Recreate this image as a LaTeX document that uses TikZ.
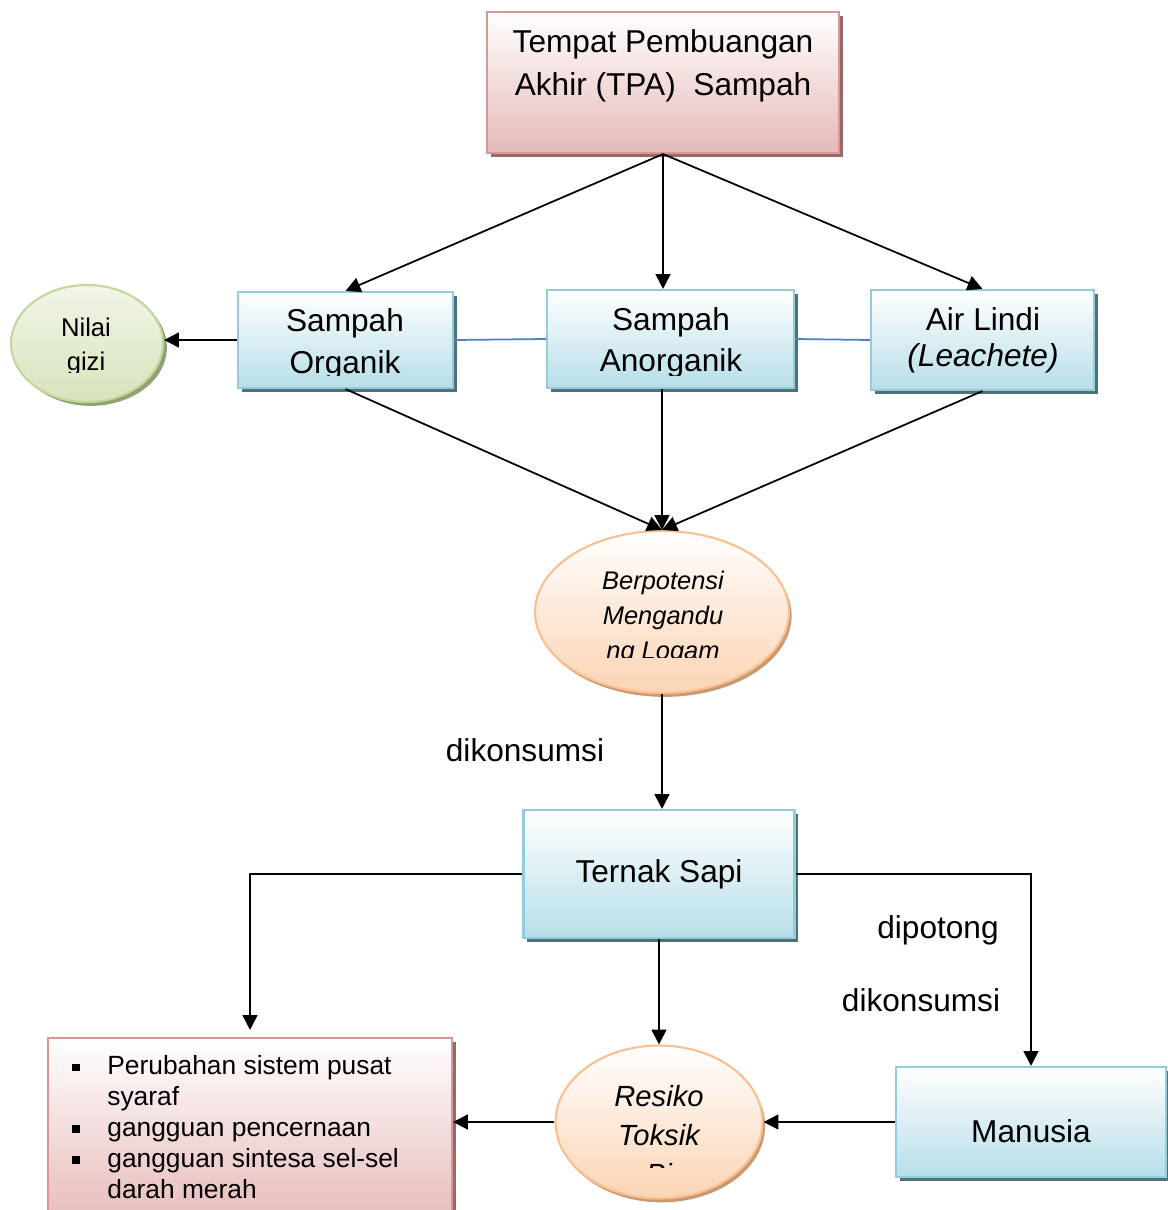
\documentclass[tikz,border=0pt]{standalone}
\usepackage{fontspec}
\setmainfont{Liberation Sans}
\usetikzlibrary{arrows.meta,positioning,shapes.geometric,shadows,calc}
\definecolor{pinkdraw}{HTML}{D99694}
\definecolor{pinkfill}{HTML}{E6B9B8}
\definecolor{bluedraw}{HTML}{93CDDD}
\definecolor{bluefill}{HTML}{B7DEE8}
\definecolor{greendraw}{HTML}{C3D69B}
\definecolor{greenfill}{HTML}{D7E4BD}
\definecolor{peachdraw}{HTML}{FAC090}
\definecolor{peachfill}{HTML}{FBD4B4}
\definecolor{linkblue}{HTML}{4F81BD}
\newcommand{\sqbul}{\rule[1.8pt]{4.4pt}{4.4pt}\hspace{15.6pt}}
\begin{document}
\begin{tikzpicture}[x=0.02cm, y=-0.02cm, every node/.style={inner sep=0pt},
      blubox/.style={rectangle, draw=bluedraw, line width=1.2pt, top color=white, bottom color=bluefill,
        drop shadow={shadow xshift=2.2pt, shadow yshift=-2.2pt, fill=black!45!bluedraw, opacity=1}},
      pinkbox/.style={rectangle, draw=pinkdraw, line width=1.2pt, top color=white, bottom color=pinkfill,
        drop shadow={shadow xshift=2.2pt, shadow yshift=-2.2pt, fill=black!30!pinkdraw, opacity=1}},
      greenell/.style={ellipse, draw=greendraw, line width=1.2pt, top color=greenfill!35, bottom color=greenfill,
        drop shadow={shadow xshift=2.2pt, shadow yshift=-2.2pt, fill=black!25!greendraw, opacity=1}},
      peachell/.style={ellipse, draw=peachdraw, line width=1.2pt, top color=white, bottom color=peachfill,
        drop shadow={shadow xshift=1.5pt, shadow yshift=-2.2pt, fill=black!20!peachdraw, opacity=1}},
      txt/.style={align=center},
      big/.style={font=\fontsize{18}{22}\selectfont},
      arr/.style={-{Triangle[length=8.5pt,width=8.5pt]}, line width=1pt},
      link/.style={linkblue, line width=1pt}]
    \useasboundingbox (0,0) rectangle (1168,1210);
    \node[pinkbox, minimum width=7.04cm, minimum height=2.82cm] (tpa) at (663,82.5) {};
    \node[blubox, minimum width=4.3cm, minimum height=1.92cm] (organik) at (345.5,340) {};
    \node[blubox, minimum width=4.94cm, minimum height=1.96cm] (anorganik) at (670.5,339) {};
    \node[blubox, minimum width=4.46cm, minimum height=2cm] (lindi) at (982.5,340) {};
    \node[greenell, minimum width=3.04cm, minimum height=2.34cm] (gizi) at (87,343.5) {};
    \node[peachell, minimum width=5.08cm, minimum height=3.24cm] (logam) at (662,612) {};
    \node[blubox, big, minimum width=5.42cm, minimum height=2.56cm] (sapi) at (659,874) {Ternak Sapi};
    \node[peachell, minimum width=4.14cm, minimum height=3.06cm] (resiko) at (659,1122) {};
    \node[blubox, minimum width=5.4cm, minimum height=2.2cm] (manusia) at (1031,1122) {};
    \node[pinkbox, minimum width=8.08cm, minimum height=3.8cm] (efek) at (250,1133) {};
    % texts
    \node[txt, anchor=north, font=\fontsize{18}{24.5}\selectfont] (tpatxt) at (663,29.5) {Tempat Pembuangan\\Akhir (TPA)\ \ Sampah};
    \begin{scope}
      \clip (240,295) rectangle (451,375);
      \node[txt, anchor=north, font=\fontsize{18}{23.5}\selectfont] (organiktxt) at (345,308.5) {Sampah\\Organik};
    \end{scope}
    \begin{scope}
      \clip (549,292) rectangle (792,375);
      \node[txt, anchor=north, font=\fontsize{18}{23.3}\selectfont] (anorganiktxt) at (671,307.5) {Sampah\\Anorganik};
    \end{scope}
    \node[txt, anchor=north, font=\fontsize{18}{20.4}\selectfont] (lindistxt) at (983,307) {Air Lindi\\\textit{(Leachete)}};
    \begin{scope}
      \clip (15,290) rectangle (160,372);
      \node[txt, anchor=north, font=\fontsize{14.6}{19.3}\selectfont] (gizitxt) at (86,318) {Nilai\\gizi};
    \end{scope}
    \begin{scope}
      \clip (540,540) rectangle (785,657);
      \node[txt, anchor=north, font=\fontsize{14.5}{19.8}\selectfont\itshape] (logamtxt) at (663,571) {Berpotensi\\Mengandu\\ng Logam};
    \end{scope}
    \begin{scope}
      \clip (560,1050) rectangle (758,1167);
      \node[txt, anchor=north, font=\fontsize{16.6}{22.1}\selectfont\itshape] (resikotxt) at (659,1085) {Resiko\\Toksik\\Bi};
    \end{scope}
    \node[big] (manusiatxt) at (1031,1131) {Manusia};
    \node[align=left, anchor=north west, font=\fontsize{15}{17.6}\selectfont] (efektxt) at (107,1055)
      {\llap{\sqbul}Perubahan sistem pusat\\syaraf\\\llap{\sqbul}gangguan pencernaan\\\llap{\sqbul}gangguan sintesa sel-sel\\darah merah};
    \node[big] (kons1) at (525,750) {dikonsumsi};
    \node[big] (potong) at (938,930) {dipotong};
    \node[big] (kons2) at (921,1000) {dikonsumsi};
    % connectors
    \draw[arr] (tpa.south) -- (organik.north);
    \draw[arr] (tpa.south) -- (tpa.south |- anorganik.north);
    \draw[arr] (tpa.south) -- (lindi.north);
    \draw[link] (organik.east) -- (anorganik.west); \draw[link] (anorganik.east) -- (lindi.west);
    \draw[arr] (organik.west) -- (organik.west -| gizi.east);
    \draw[arr] (organik.south) -- (logam.north);
    \draw[arr] (logam.north |- anorganik.south) -- (logam.north);
    \draw[arr] (lindi.south) -- (logam.north);
    \draw[arr] (logam.south) -- (logam.south |- sapi.north);
    \draw[arr, shorten >=4pt] (sapi.west) -| (efek.north);
    \draw[arr] (sapi.east) -| (manusia.north);
    \draw[arr] (sapi.south) -- (resiko.north);
    \draw[arr] (manusia.west) -- (manusia.west -| resiko.east);
    \draw[arr] (resiko.west) -- (resiko.west -| efek.east);
  \end{tikzpicture}
\end{document}
